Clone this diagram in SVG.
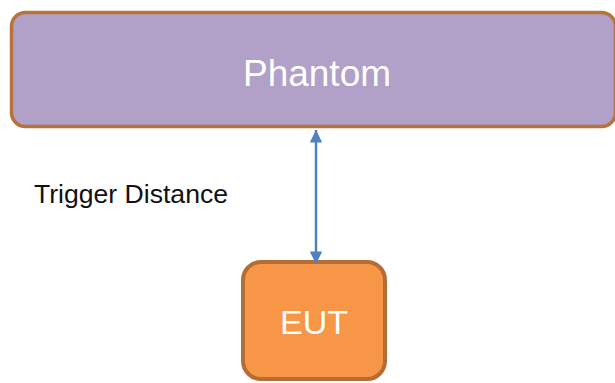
<svg xmlns="http://www.w3.org/2000/svg" width="615" height="383" viewBox="0 0 615 383">
<defs>
<style>
.lbl{font-family:"Liberation Sans",Arial,sans-serif;fill:#fff;text-anchor:middle}
.cap{font-family:"Liberation Sans",Arial,sans-serif;fill:#111;}
</style>
<marker id="ah" viewBox="0 0 10 10" refX="10" refY="5" markerWidth="5.5" markerHeight="5" orient="auto-start-reverse" markerUnits="strokeWidth">
<path d="M0,0 L10,5 L0,10 z" fill="#4F81BD"/>
</marker>
</defs>
<rect width="615" height="383" fill="#fff"/>
<g id="phantom">
<rect x="11.5" y="12.5" width="604" height="114" rx="14" fill="#B1A0C7" stroke="#B8733A" stroke-width="3.5"/>
<text class="lbl" x="317" y="86" font-size="37">Phantom</text>
</g>
<g id="eut">
<rect x="243" y="262" width="142" height="117" rx="18" fill="#F79646" stroke="#B56D34" stroke-width="4"/>
<text class="lbl" x="314" y="334" font-size="34">EUT</text>
</g>
<g id="connectors">
<line x1="316" y1="130" x2="316" y2="264" stroke="#4F81BD" stroke-width="2.5" marker-start="url(#ah)" marker-end="url(#ah)"/>
</g>
<text class="cap" x="34" y="203" font-size="25" textLength="194" lengthAdjust="spacingAndGlyphs">Trigger Distance</text>
</svg>
